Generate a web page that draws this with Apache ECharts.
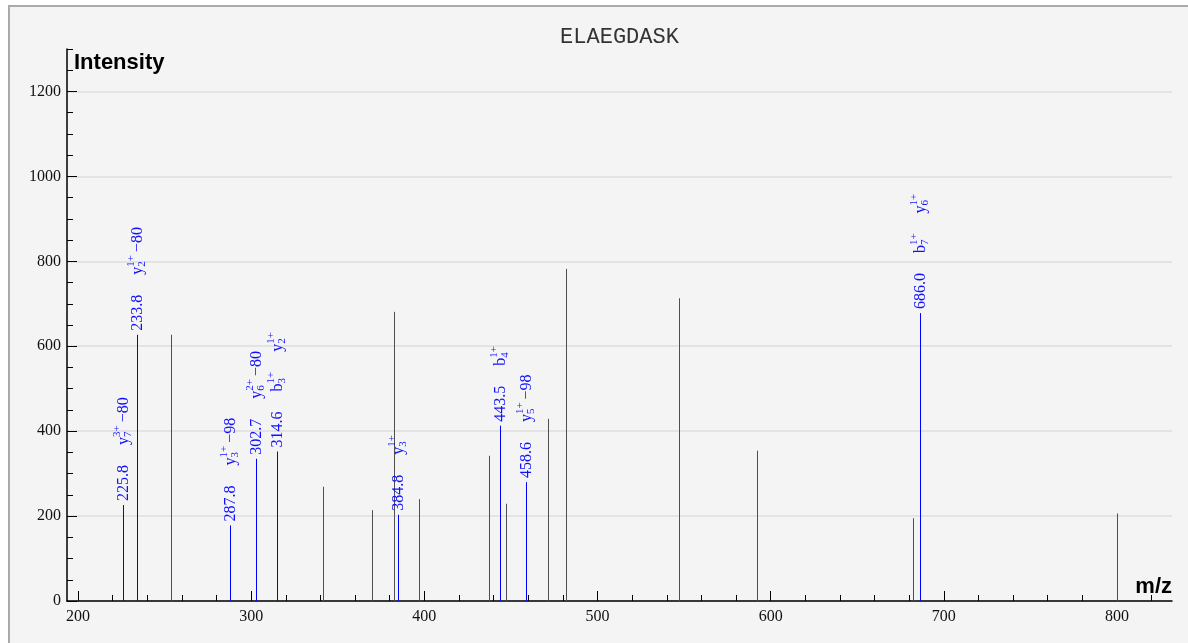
<!DOCTYPE html>
<html>
<head>
<meta charset="utf-8">
<script src="https://cdn.jsdelivr.net/npm/echarts@6/dist/echarts.min.js"></script>
<style>
html,body{margin:0;padding:0;background:#fff;overflow:hidden;width:1188px;height:643px;}
#frame{position:absolute;left:8px;top:5px;width:1178px;height:636px;border-top:2px solid #aaa;border-left:2px solid #aaa;background:#f4f4f4;overflow:hidden;}
#chart{position:absolute;left:0;top:0;width:1178px;height:636px;}
</style>
</head>
<body>
<div id="frame"><div id="chart"></div></div>
<script>
// ---- data ----
const peptide = 'ELAEGDASK';
const unmatchedMz = [253.4, 341.6, 369.6, 382.7, 397.1, 437.5, 447.2, 471.6, 481.8, 546.9, 591.9, 682.4, 799.8];
const unmatchedIntensity = [627, 269, 214, 681, 240, 342, 229, 429, 782, 713, 354, 195, 206];
const matchedMz = [225.8, 233.8, 287.8, 302.7, 314.6, 384.8, 443.5, 458.6, 686.0];
const matchedIntensity = [226, 627, 178, 335, 352, 203, 413, 280, 678];
// each ion: [letter, subscript, superscript, neutral loss]
const matchedIons = [
  [['y', '7', '3+', '−80']],
  [['y', '2', '1+', '−80']],
  [['y', '3', '1+', '−98']],
  [['y', '6', '2+', '−80']],
  [['b', '3', '1+', ''], ['y', '2', '1+', '']],
  [['y', '3', '1+', '']],
  [['b', '4', '1+', '']],
  [['y', '5', '1+', '−98']],
  [['b', '7', '1+', ''], ['y', '6', '1+', '']]
];
const xMajorTicks = [200, 300, 400, 500, 600, 700, 800];
const xMinorTicks = [220, 240, 260, 280, 320, 340, 360, 380, 420, 440, 460, 480, 520, 540, 560, 580, 620, 640, 660, 680, 720, 740, 760, 780, 820];
const yMajorTicks = [0, 200, 400, 600, 800, 1000, 1200];
const yMinorTicks = [50, 100, 150, 250, 300, 350, 450, 500, 550, 650, 700, 750, 850, 900, 950, 1050, 1100, 1150, 1250, 1300];
const xName = 'm/z';
const yName = 'Intensity';

// ---- styling ----
const BLUE = '#0000ff';
const LABEL_BLUE = '#1010ff';
const GRAY = '#505050';
const SERIF = '"Liberation Serif", "Times New Roman", serif';
const NUM_FONT = '16px ' + SERIF;
const SCRIPT_FONT = '11px ' + SERIF;
const GAP = 20;

const mctx = document.createElement('canvas').getContext('2d');
function measure(t, font) { mctx.font = font; return mctx.measureText(t).width; }
function txt(t, x, y, font) {
  return {
    type: 'text', x: x, y: y, silent: true,
    style: { text: t, font: font, fill: LABEL_BLUE, align: 'left', textAlign: 'left', verticalAlign: 'middle', textVerticalAlign: 'middle' }
  };
}

function renderUnmatched(params, api) {
  const base = api.coord([api.value(0), 0]);
  const top = api.coord([api.value(0), api.value(1)]);
  const x = Math.round(base[0]) + 0.5;
  return { type: 'line', silent: true, shape: { x1: x, y1: base[1], x2: x, y2: top[1] }, style: { stroke: GRAY, lineWidth: 1 } };
}

function renderMatched(params, api) {
  const i = params.dataIndex;
  const base = api.coord([api.value(0), 0]);
  const top = api.coord([api.value(0), api.value(1)]);
  const x = Math.round(base[0]) + 0.5;
  const texts = [];
  let cur = 0;
  const num = api.value(0).toFixed(1);
  texts.push(txt(num, cur, 0, NUM_FONT));
  cur += measure(num, NUM_FONT) + GAP;
  matchedIons[i].forEach(function (ion) {
    const b = ion[0], sub = ion[1], sup = ion[2], loss = ion[3];
    texts.push(txt(b, cur, 0, NUM_FONT));
    cur += measure(b, NUM_FONT);
    texts.push(txt(sup, cur, -6, SCRIPT_FONT));
    texts.push(txt(sub, cur, 4.5, SCRIPT_FONT));
    cur += Math.max(measure(sup, SCRIPT_FONT), measure(sub, SCRIPT_FONT));
    if (loss) {
      cur += 3;
      texts.push(txt(loss, cur, 0, NUM_FONT));
      cur += measure(loss, NUM_FONT);
    }
    cur += GAP;
  });
  return {
    type: 'group',
    children: [
      { type: 'line', silent: true, shape: { x1: x, y1: base[1], x2: x, y2: top[1] }, style: { stroke: BLUE, lineWidth: 1 } },
      { type: 'group', x: x, y: top[1] - 4, rotation: Math.PI / 2, children: texts }
    ]
  };
}

const chart = echarts.init(document.getElementById('chart'), null, { renderer: 'canvas' });
const xMin = 193.6, xMax = 831.8, yMin = 0, yMax = 1300;
const plain = function (v) { return String(v); };

chart.setOption({
  animation: false,
  backgroundColor: 'transparent',
  grid: { left: 57, right: 16, top: 42, bottom: 42, containLabel: false },
  xAxis: [
    {
      type: 'value', min: xMin, max: xMax, position: 'bottom',
      axisLine: { show: true, onZero: false, lineStyle: { color: '#000', width: 1.5 } },
      axisTick: { show: true, inside: true, length: 10, customValues: xMajorTicks, lineStyle: { color: '#000', width: 1 } },
      axisLabel: { show: true, customValues: xMajorTicks, formatter: plain, margin: 8, color: '#111', fontFamily: SERIF, fontSize: 16 },
      splitLine: { show: false }
    },
    {
      type: 'value', min: xMin, max: xMax, position: 'bottom',
      axisLine: { show: false, onZero: false },
      axisTick: { show: true, inside: true, length: 6, customValues: xMinorTicks, lineStyle: { color: '#000', width: 1 } },
      axisLabel: { show: false },
      splitLine: { show: false }
    }
  ],
  yAxis: [
    {
      type: 'value', min: yMin, max: yMax, position: 'left',
      axisLine: { show: true, onZero: false, lineStyle: { color: '#000', width: 1.5 } },
      axisTick: { show: true, inside: true, length: 10, customValues: yMajorTicks, lineStyle: { color: '#000', width: 1 } },
      axisLabel: { show: true, customValues: yMajorTicks, formatter: plain, margin: 6, color: '#111', fontFamily: SERIF, fontSize: 16 },
      splitLine: { show: true, lineStyle: { color: '#dedede', width: 1.5 } }
    },
    {
      type: 'value', min: yMin, max: yMax, position: 'left',
      axisLine: { show: false, onZero: false },
      axisTick: { show: true, inside: true, length: 6, customValues: yMinorTicks, lineStyle: { color: '#000', width: 1 } },
      axisLabel: { show: false },
      splitLine: { show: false }
    }
  ],
  graphic: [
    { type: 'text', x: 609.5, y: 30, silent: true,
      style: { text: peptide, font: '22px "Liberation Mono", "Courier New", monospace', fill: '#333', align: 'center', textAlign: 'center', verticalAlign: 'middle', textVerticalAlign: 'middle' } },
    { type: 'text', x: 64, y: 55.5, silent: true,
      style: { text: yName, font: 'bold 22px "Liberation Sans", Arial, sans-serif', fill: '#000', align: 'left', textAlign: 'left', verticalAlign: 'middle', textVerticalAlign: 'middle' } },
    { type: 'text', x: 1162, y: 580, silent: true,
      style: { text: xName, font: 'bold 22px "Liberation Sans", Arial, sans-serif', fill: '#000', align: 'right', textAlign: 'right', verticalAlign: 'middle', textVerticalAlign: 'middle' } }
  ],
  series: [
    {
      type: 'custom', name: 'unmatched', xAxisIndex: 0, yAxisIndex: 0, clip: false,
      renderItem: renderUnmatched,
      encode: { x: 0, y: 1 },
      data: unmatchedMz.map(function (m, k) { return [m, unmatchedIntensity[k]]; })
    },
    {
      type: 'custom', name: 'matched', xAxisIndex: 0, yAxisIndex: 0, clip: false,
      renderItem: renderMatched,
      encode: { x: 0, y: 1 },
      data: matchedMz.map(function (m, k) { return [m, matchedIntensity[k]]; })
    }
  ]
});
</script>
</body>
</html>
